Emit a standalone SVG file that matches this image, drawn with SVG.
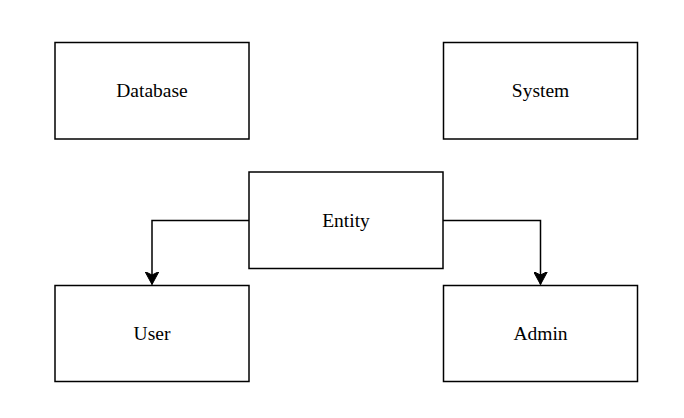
<svg xmlns="http://www.w3.org/2000/svg" width="684" height="418" viewBox="0 0 684 418">
<defs>
<style>
.box{fill:#ffffff;stroke:#000000;stroke-width:1.5}
.lbl{font-family:"Liberation Serif","Times New Roman",serif;font-size:19.5px;fill:#000000;text-anchor:middle}
.edge{fill:none;stroke:#000000;stroke-width:1.5}
</style>
<marker id="arr" viewBox="0 0 14 14" markerWidth="14" markerHeight="14" refX="13" refY="7" orient="auto" markerUnits="userSpaceOnUse">
<path d="M0,0 L13,7 L0,14 L3.5,7 Z" fill="#000000" stroke="#000000" stroke-width="1"/>
</marker>
</defs>
<rect width="684" height="418" fill="#ffffff"/>
<g id="edges">
<path class="edge" d="M249,220.5 H152 V284.5" marker-end="url(#arr)"/>
<path class="edge" d="M443,220.5 H540.5 V284.5" marker-end="url(#arr)"/>
</g>
<g id="database"><rect class="box" x="55" y="42.5" width="194" height="96.5"/><text class="lbl" x="152" y="97">Database</text></g>
<g id="system"><rect class="box" x="443.5" y="42.5" width="194" height="96.5"/><text class="lbl" x="540.5" y="97">System</text></g>
<g id="entity"><rect class="box" x="249" y="172" width="194" height="96.5"/><text class="lbl" x="346" y="226.5">Entity</text></g>
<g id="user"><rect class="box" x="55" y="285.5" width="194" height="96"/><text class="lbl" x="152" y="339.5">User</text></g>
<g id="admin"><rect class="box" x="443.5" y="285.5" width="194" height="96"/><text class="lbl" x="540.5" y="339.5">Admin</text></g>
</svg>
